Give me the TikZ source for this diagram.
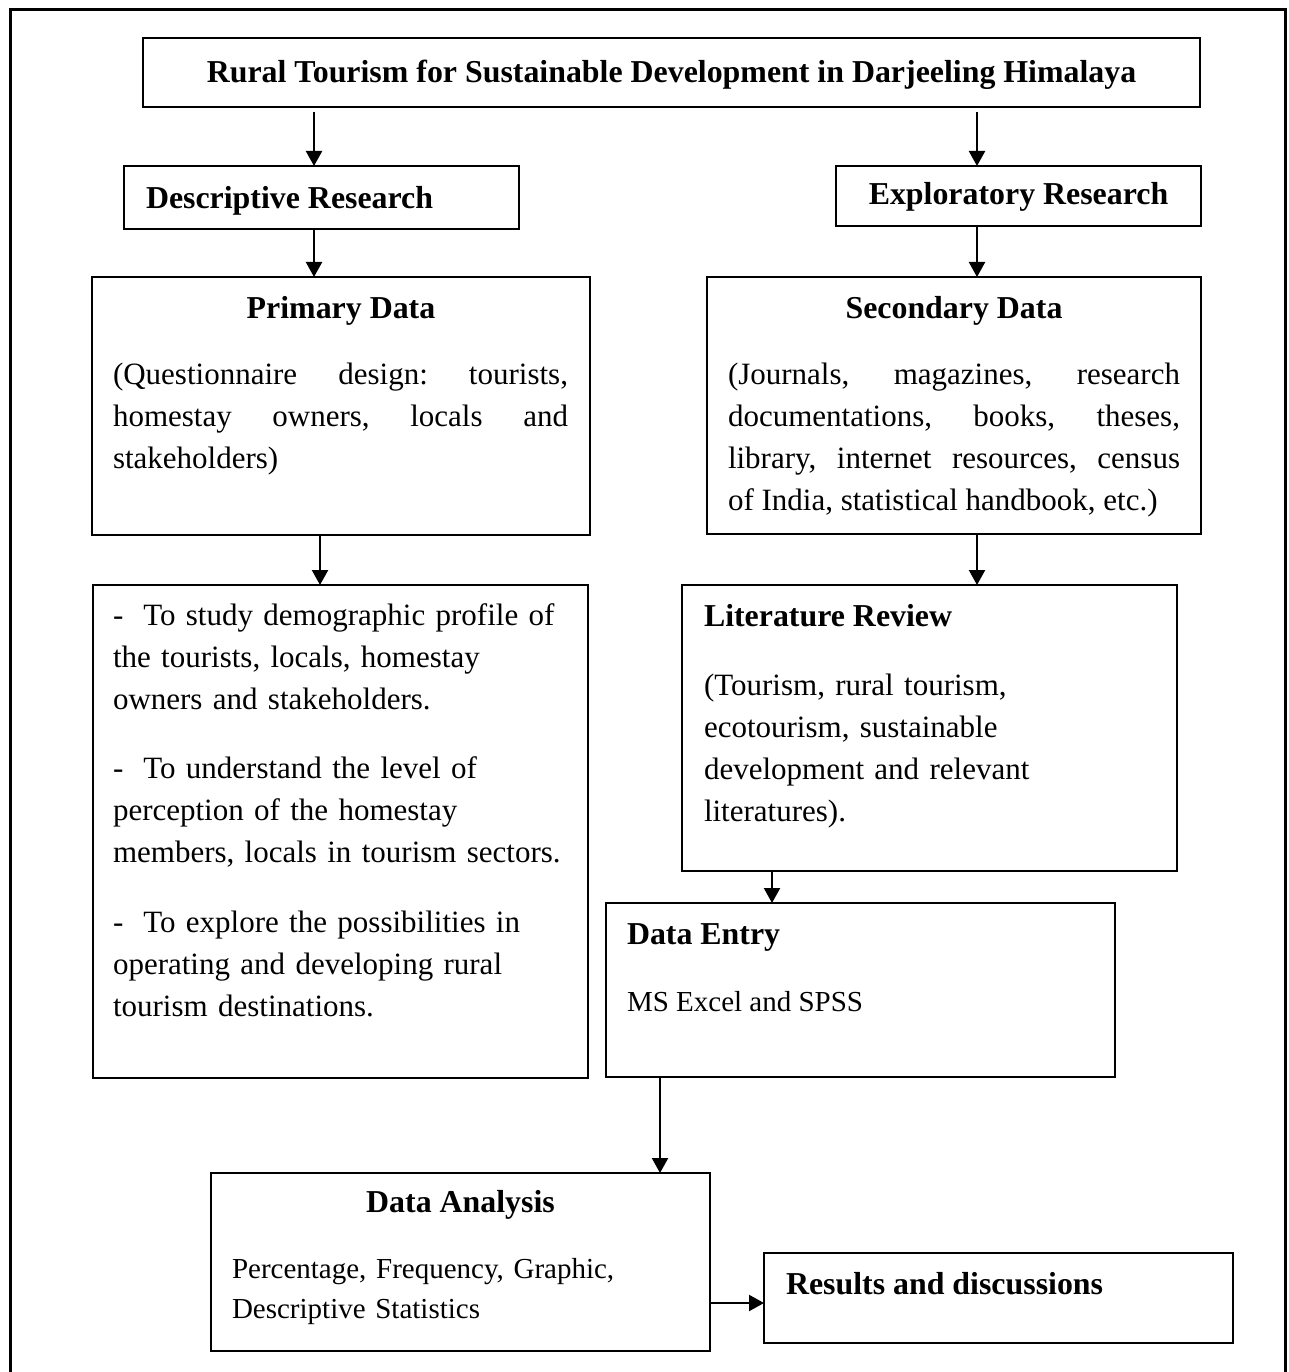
\documentclass[tikz,border=0pt]{standalone}
\usepackage{fontspec}
\setmainfont{Liberation Serif}
\usetikzlibrary{arrows.meta}
\frenchspacing
\tikzset{
  box/.style={draw, line width=0.9pt, inner sep=0pt, outer sep=0pt, rectangle},
  head/.style={inner sep=0pt, outer sep=0pt, font=\fontsize{12.75pt}{15pt}\selectfont\bfseries},
  body/.style={inner sep=0pt, outer sep=0pt, font=\fontsize{12.4pt}{16.8pt}\selectfont\frenchspacing},
  smalltext/.style={inner sep=0pt, outer sep=0pt, font=\fontsize{11.6pt}{16pt}\selectfont\frenchspacing},
  arr/.style={line width=0.9pt, -{Triangle[length=6pt,width=6.4pt]}},
  frame/.style={line width=1.2pt}
}
\begin{document}
\begin{tikzpicture}[x=0.4pt,y=-0.4pt]
\useasboundingbox (0,0) rectangle (1288,1372);
% outer frame (open at the bottom)
\draw[frame] (10,1372) -- (10,10) -- (1285,10) -- (1285,1372);

% boxes
\node[box, minimum width=422.8pt, minimum height=27.6pt] (title) at (671.5,72.5) {};
\node[box, minimum width=158pt, minimum height=25.2pt] (desc) at (321.5,197.5) {};
\node[box, minimum width=146pt, minimum height=24pt] (expl) at (1018.5,196) {};
\node[box, minimum width=199.2pt, minimum height=103.2pt] (prim) at (341,406) {};
\node[box, minimum width=197.6pt, minimum height=102.8pt] (sec) at (954,405.5) {};
\node[box, minimum width=198pt, minimum height=197.2pt] (obj) at (340.5,831.5) {};
\node[box, minimum width=198pt, minimum height=114.4pt] (lit) at (929.5,728) {};
\node[box, minimum width=203.6pt, minimum height=69.6pt] (entry) at (860.5,990) {};
\node[box, minimum width=199.6pt, minimum height=71.2pt] (anal) at (460.5,1262) {};
\node[box, minimum width=187.6pt, minimum height=36pt] (res) at (998.5,1298) {};

% texts
\node[head, anchor=base] (titletext) at (671.5,83) {Rural Tourism for Sustainable Development in Darjeeling Himalaya};
\node[head, anchor=base west] (desctext) at (146,208) {Descriptive Research};
\node[head, anchor=base] (expltext) at (1018.5,205) {Exploratory Research};
\node[head, anchor=base] (primhead) at (341,318) {Primary Data};
\node[body, anchor=base west, text width=182pt, align=justify] (primtext) at (113,384)
  {(Questionnaire design: tourists,\linebreak homestay owners, locals and\linebreak stakeholders)};
\node[head, anchor=base] (sechead) at (954,318) {Secondary Data};
\node[body, anchor=base west, text width=180.8pt, align=justify] (sectext) at (728,384)
  {(Journals, magazines, research\linebreak documentations, books, theses,\linebreak library, internet resources, census\linebreak of India, statistical handbook, etc.)};
\node[body, anchor=base west, text width=192pt, align=left] (objtext) at (113,625)
  {-\hspace{8pt}To study demographic profile of\\ the tourists, locals, homestay\\ owners and stakeholders.\\[11pt]
   -\hspace{8pt}To understand the level of\\ perception of the homestay\\ members, locals in tourism sectors.\\[11pt]
   -\hspace{8pt}To explore the possibilities in\\ operating and developing rural\\ tourism destinations.};
\node[head, anchor=base west] (lithead) at (704,626) {Literature Review};
\node[body, anchor=base west, text width=185pt, align=left] (littext) at (704,695)
  {(Tourism, rural tourism,\\ ecotourism, sustainable\\ development and relevant\\ literatures).};
\node[head, anchor=base west] (entryhead) at (627,944) {Data Entry};
\node[smalltext, anchor=base west] (entrytext) at (627,1011) {MS Excel and SPSS};
\node[head, anchor=base] (analhead) at (460.5,1212) {Data Analysis};
\node[smalltext, anchor=base west, text width=185pt, align=left] (analtext) at (232,1278)
  {Percentage, Frequency, Graphic,\\ Descriptive Statistics};
\node[head, anchor=base west] (restext) at (786,1294) {Results and discussions};

% connector guides
\coordinate (xa) at (314,0);
\coordinate (xb) at (977,0);
\coordinate (xc) at (320,0);
\coordinate (xd) at (772,0);
\coordinate (xe) at (660,0);
\coordinate (ya) at (0,1303);

% connectors
\draw[arr, shorten <=2pt] (title.south -| xa) -- (desc.north -| xa);
\draw[arr, shorten <=2pt] (title.south -| xb) -- (expl.north -| xb);
\draw[arr] (desc.south -| xa) -- (prim.north -| xa);
\draw[arr] (expl.south -| xb) -- (sec.north -| xb);
\draw[arr] (prim.south -| xc) -- (obj.north -| xc);
\draw[arr] (sec.south -| xb) -- (lit.north -| xb);
\draw[arr] (lit.south -| xd) -- (entry.north -| xd);
\draw[arr] (entry.south -| xe) -- (anal.north -| xe);
\draw[arr] (anal.east |- ya) -- (res.west |- ya);
\end{tikzpicture}
\end{document}
